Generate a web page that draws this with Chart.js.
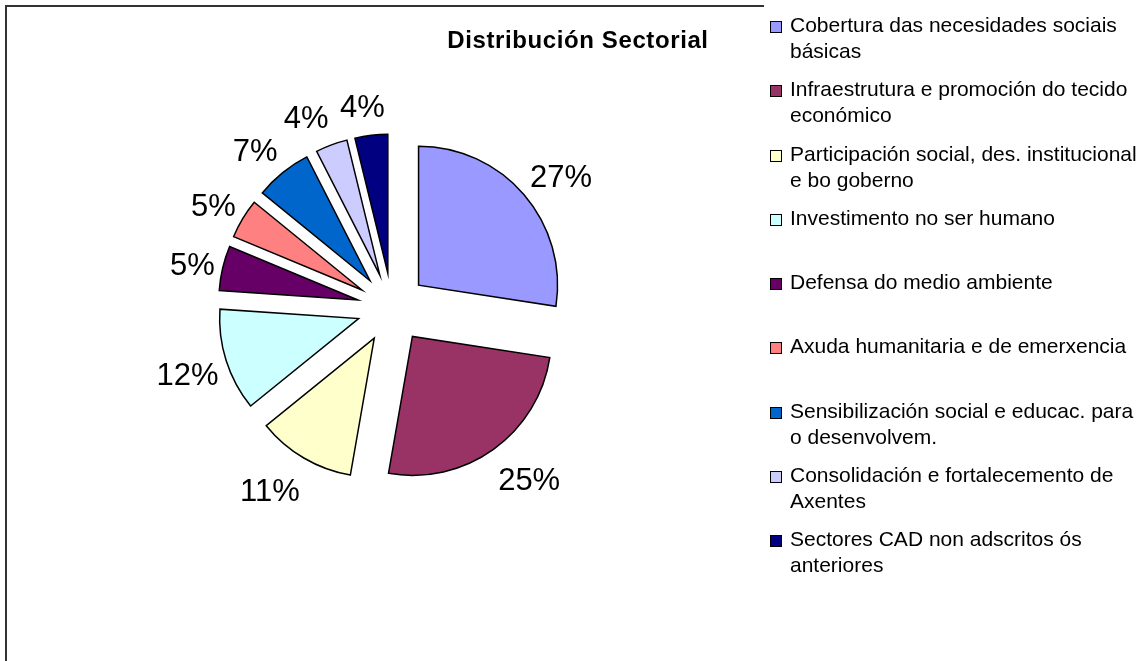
<!DOCTYPE html>
<html>
<head>
<meta charset="utf-8">
<script src="https://cdn.jsdelivr.net/npm/chart.js@4.4.1/dist/chart.umd.min.js"></script>
<style>
  body { margin: 0; background: #fff; font-family: "Liberation Sans", Arial, sans-serif; }
  #wrap { position: relative; width: 1138px; height: 661px; overflow: hidden; }
  #frame { position: absolute; left: 5px; top: 5px; width: 757px; height: 700px; border-top: 2px solid #333; border-left: 2px solid #333; }
  #pie { position: absolute; left: 0; top: 0; }
  #title { position: absolute; left: 378px; top: 28px; width: 400px; text-align: center; font-weight: bold; font-size: 24px; letter-spacing: 0.6px; line-height: 1; color: #000; }
  #legend { position: absolute; left: 770px; top: 12px; }
  .item { position: relative; height: 64.3px; }
  .box { position: absolute; left: 0; top: 9px; width: 10px; height: 10px; border: 1px solid #000; }
  .txt { position: absolute; left: 20px; top: 0; font-size: 21px; line-height: 26px; white-space: nowrap; color: #000; }
</style>
</head>
<body>
<div id="wrap">
  <div id="frame"></div>
  <canvas id="pie" width="1138" height="661"></canvas>
  <div id="title">Distribución Sectorial</div>
  <div id="legend"></div>
</div>
<script>
// Sectors (legend lines as drawn in the original)
const sectors = [
    ['Cobertura das necesidades sociais', 'básicas'],
    ['Infraestrutura e promoción do tecido', 'económico'],
    ['Participación social, des. institucional', 'e bo goberno'],
    ['Investimento no ser humano'],
    ['Defensa do medio ambiente'],
    ['Axuda humanitaria e de emerxencia'],
    ['Sensibilización social e educac. para', 'o desenvolvem.'],
    ['Consolidación e fortalecemento de', 'Axentes'],
    ['Sectores CAD non adscritos ós', 'anteriores']
]
// share of the budget, %
const shares = [27.4, 25.3, 11.4, 11.9, 5.2, 4.6, 6.6, 3.7, 3.8]

const colours = ['#9999FF', '#993366', '#FFFFCC', '#CCFFFF', '#660066', '#FF8080', '#0066CC', '#CCCCFF', '#000080']

const EXPLODE = 35
const LABEL_GAP_X = 8
const LABEL_GAP_Y = 33
const total = shares.reduce((a, b) => a + b, 0)

// every slice pulled out by the same distance (Excel style explosion)
const explodeSlices = {
    id: 'explodeSlices',
    beforeDatasetDraw(chart, args) {
        const c = chart.ctx
        args.meta.data.forEach(arc => {
            const mid = (arc.startAngle + arc.endAngle) / 2
            c.save()
            c.translate(Math.cos(mid) * EXPLODE, Math.sin(mid) * EXPLODE)
            arc.draw(c)
            c.restore()
        })
        return false
    }
}

// percentage labels outside each slice
const pctLabels = {
    id: 'pctLabels',
    afterDatasetsDraw(chart) {
        const c = chart.ctx
        const meta = chart.getDatasetMeta(0)
        const size = 31
        c.save()
        c.font = size + 'px "Liberation Sans", Arial, sans-serif'
        c.fillStyle = '#000'
        c.textAlign = 'center'
        c.textBaseline = 'alphabetic'
        meta.data.forEach((arc, i) => {
            const { x, y, startAngle, endAngle, outerRadius } =
                arc.getProps(['x', 'y', 'startAngle', 'endAngle', 'outerRadius'], true)
            const mid = (startAngle + endAngle) / 2
            const text = Math.round(shares[i] / total * 100) + '%'
            const w = c.measureText(text).width
            const r = outerRadius + EXPLODE
            const side = Math.max(-1, Math.min(1, Math.cos(mid) * 3))
            const cx = x + Math.cos(mid) * (r + LABEL_GAP_X) + side * w / 2
            const cy = y + Math.sin(mid) * (r + LABEL_GAP_Y)
            c.fillText(text, cx, cy + size * 0.36 + 3)
        })
        c.restore()
    }
}

new Chart(document.getElementById('pie').getContext('2d'), {
    type: 'pie',
    data: {
        labels: sectors,
        datasets: [{
            data: shares,
            backgroundColor: colours,
            borderColor: '#000',
            borderWidth: 1.5,
            borderJoinStyle: 'miter'
        }]
    },
    options: {
        responsive: false,
        animation: false,
        events: [],
        radius: 139,
        layout: { padding: { left: 0, right: 354, top: 0, bottom: 45 } },
        plugins: {
            legend: { display: false },
            title: { display: false },
            tooltip: { enabled: false }
        }
    },
    plugins: [explodeSlices, pctLabels]
})

// legend on the right
const legend = document.getElementById('legend')
sectors.forEach((lines, i) => {
    const item = document.createElement('div')
    item.className = 'item'
    const box = document.createElement('div')
    box.className = 'box'
    box.style.background = colours[i]
    const txt = document.createElement('div')
    txt.className = 'txt'
    lines.forEach((line, j) => {
        if (j > 0) txt.appendChild(document.createElement('br'))
        txt.appendChild(document.createTextNode(line))
    })
    item.appendChild(box)
    item.appendChild(txt)
    legend.appendChild(item)
})
</script>
</body>
</html>
